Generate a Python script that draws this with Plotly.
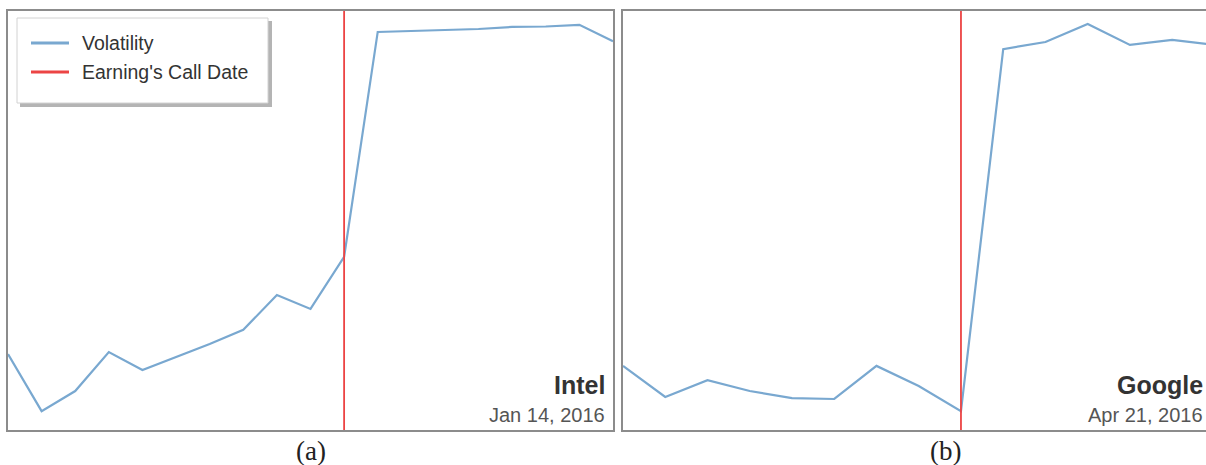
import plotly.graph_objects as go

W, H = 1206, 465

# Intel: days relative to the earnings call (Jan 14, 2016), normalized volatility
intel_days = [-10, -9, -8, -7, -6, -5, -4, -3, -2, -1, 0, 1, 2, 3, 4, 5, 6, 7, 8]
intel_vol = [0.181, 0.045, 0.093, 0.186, 0.143, 0.174, 0.205, 0.239, 0.322, 0.289,
             0.413, 0.950, 0.952, 0.955, 0.957, 0.962, 0.963, 0.967, 0.928]

# Google: days relative to the earnings call (Apr 21, 2016)
google_days = [-8, -7, -6, -5, -4, -3, -2, -1, 0, 1, 2, 3, 4, 5, 6]
google_vol = [0.153, 0.079, 0.119, 0.093, 0.076, 0.074, 0.153, 0.105, 0.045,
              0.909, 0.926, 0.969, 0.919, 0.931, 0.919]

call_day = [0, 0]
call_span = [0, 1]

legend_names = ["Volatility", "Earning's Call Date"]

BLUE = "#79a8d0"
RED = "#ec4444"
BORDER = "#8c8c8c"


def px_x(p):
    return p / W


def px_y(p):
    return 1 - p / H


fig = go.Figure()

fig.add_trace(go.Scatter(x=intel_days, y=intel_vol, mode="lines", name=legend_names[0],
                         line=dict(color=BLUE, width=2.2), xaxis="x", yaxis="y"))
fig.add_trace(go.Scatter(x=call_day, y=call_span, mode="lines", name=legend_names[1],
                         line=dict(color=RED, width=1.8), xaxis="x", yaxis="y"))
fig.add_trace(go.Scatter(x=google_days, y=google_vol, mode="lines", name=legend_names[0],
                         line=dict(color=BLUE, width=2.2), xaxis="x2", yaxis="y2"))
fig.add_trace(go.Scatter(x=call_day, y=call_span, mode="lines", name=legend_names[1],
                         line=dict(color=RED, width=1.8), xaxis="x2", yaxis="y2"))

ydom = [px_y(430), px_y(11)]
axis_common = dict(showgrid=False, zeroline=False, showticklabels=False, ticks="",
                   showline=True, linecolor=BORDER, linewidth=2)

fig.update_layout(
    width=W, height=H,
    margin=dict(l=0, r=0, t=0, b=0),
    paper_bgcolor="white", plot_bgcolor="white",
    font=dict(family="Liberation Sans, Arial, sans-serif", color="#333"),
    xaxis=dict(domain=[px_x(8), px_x(613)], range=[-10, 8], mirror=True, **axis_common),
    yaxis=dict(domain=ydom, range=[0, 1], mirror=True, **axis_common),
    xaxis2=dict(domain=[px_x(623), 1], range=[-8, 5.8], mirror=True, anchor="y2",
                **axis_common),
    yaxis2=dict(domain=ydom, range=[0, 1], mirror=False, anchor="x2", **axis_common),
    showlegend=False,
)

# legend panel in the upper-left corner of the Intel plot, with a drop shadow
fig.add_shape(type="rect", xref="paper", yref="paper",
              x0=px_x(20), x1=px_x(272), y0=px_y(107), y1=px_y(21),
              fillcolor="#b4b4b4", line=dict(width=0), layer="above")
fig.add_shape(type="rect", xref="paper", yref="paper",
              x0=px_x(17), x1=px_x(268), y0=px_y(103), y1=px_y(18),
              fillcolor="white", line=dict(color="#d2d2d2", width=1), layer="above")
for name, color, row_y in [(legend_names[0], BLUE, 43), (legend_names[1], RED, 72)]:
    fig.add_shape(type="line", xref="paper", yref="paper",
                  x0=px_x(31), x1=px_x(69), y0=px_y(row_y), y1=px_y(row_y),
                  line=dict(color=color, width=3), layer="above")
    fig.add_annotation(text=name, x=px_x(80), y=px_y(row_y), xref="paper", yref="paper",
                       xanchor="left", yanchor="middle", showarrow=False,
                       font=dict(size=19.5, color="#333",
                                 family="Liberation Sans, Arial, sans-serif"))

labels = [
    dict(text="<b>Intel</b>", x=607, y=385, size=25, color="#333"),
    dict(text="Jan 14, 2016", x=607, y=415, size=20, color="#555"),
    dict(text="<b>Google</b>", x=1205, y=385, size=25, color="#333"),
    dict(text="Apr 21, 2016", x=1205, y=415, size=20, color="#555"),
]
for lab in labels:
    fig.add_annotation(text=lab["text"], x=px_x(lab["x"]), y=px_y(lab["y"]),
                       xref="paper", yref="paper", xanchor="right", yanchor="middle",
                       showarrow=False,
                       font=dict(size=lab["size"], color=lab["color"],
                                 family="Liberation Sans, Arial, sans-serif"))

for txt, cx in [("(a)", 311), ("(b)", 945)]:
    fig.add_annotation(text=txt, x=px_x(cx), y=px_y(451), xref="paper", yref="paper",
                       xanchor="center", yanchor="middle", showarrow=False,
                       font=dict(size=27, color="#222",
                                 family="Liberation Serif, Times New Roman, serif"))

fig.write_html("out.html")
